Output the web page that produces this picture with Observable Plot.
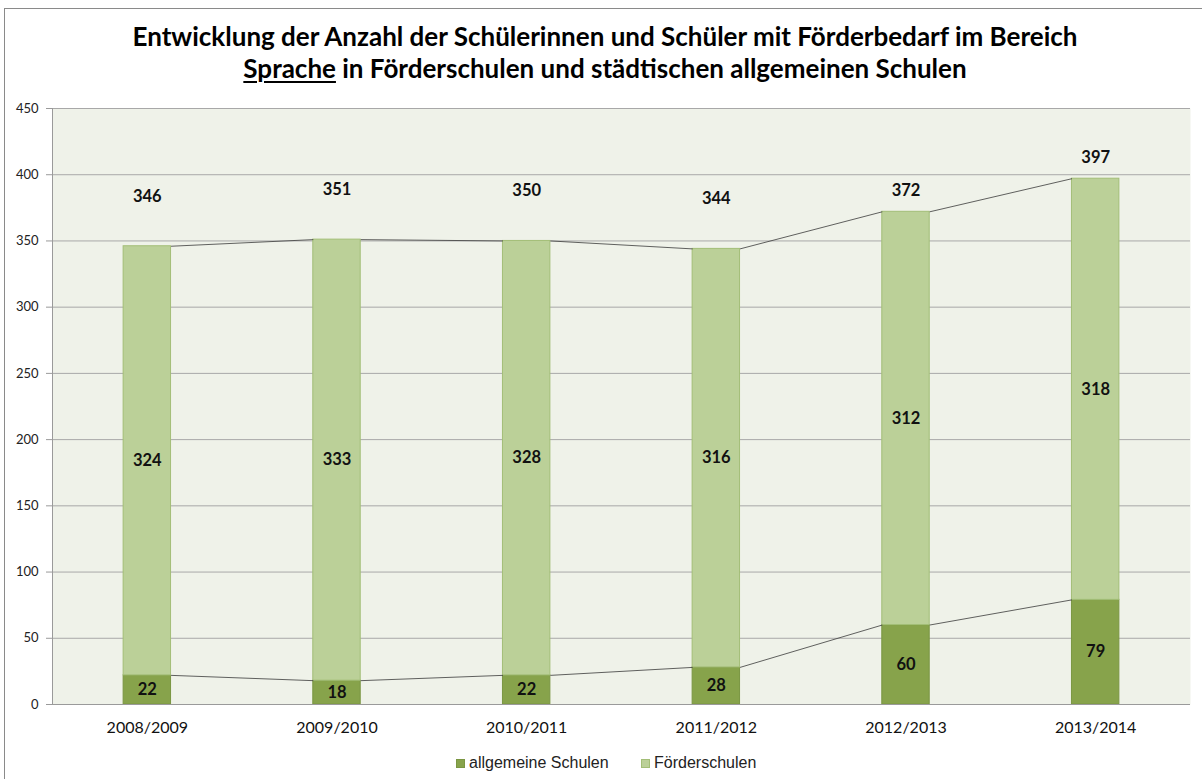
<!DOCTYPE html>
<html><head><meta charset="utf-8">
<script src="https://cdn.jsdelivr.net/npm/d3@7"></script>
<script src="https://cdn.jsdelivr.net/npm/@observablehq/plot@0.6"></script>
<style>
html,body{margin:0;padding:0;background:#fff;}
body{width:1202px;height:779px;overflow:hidden;position:relative;font-family:Lato,sans-serif;}
#frame{position:absolute;left:4px;top:8px;width:1300px;height:900px;border:1px solid #8a8a8a;box-sizing:border-box;}
#title{position:absolute;left:4px;top:20px;width:1202px;text-align:center;font-weight:bold;font-size:26px;line-height:32px;color:#000;font-family:Lato,sans-serif;}
#title u{text-decoration-thickness:2px;text-underline-offset:3px;}
#chart{position:absolute;left:0;top:96px;}
#legend{position:absolute;left:0;top:753px;width:1202px;font-family:"Liberation Sans",Arial,sans-serif;font-size:16px;color:#222;}
.item{position:absolute;display:flex;align-items:center;white-space:nowrap;line-height:20px;}
.sw{width:7px;height:7px;margin-right:4px;border:1px solid;}
</style></head>
<body>
<div id="frame"></div>
<div id="title">Entwicklung der Anzahl der Schülerinnen und Schüler mit Förderbedarf im Bereich<br><u>Sprache</u> in Förderschulen und städtischen allgemeinen Schulen</div>
<div id="chart"></div>
<div id="legend"></div>
<script>
const years = ["2008/2009","2009/2010","2010/2011","2011/2012","2012/2013","2013/2014"];
const allgemeine = [22, 18, 22, 28, 60, 79];
const foerder = [324, 333, 328, 316, 312, 318];
const totals = [346, 351, 350, 344, 372, 397];
const seriesNames = ["allgemeine Schulen", "Förderschulen"];
const seriesColors = ["#87A34B", "#BBD098"];
const seriesStrokes = ["#7A9642", "#A3BE77"];
const yTicks = [0,50,100,150,200,250,300,350,400,450];

const half = 0.125;
const idx = years.map((_, i) => i);
const segs = [];
idx.forEach(i => {
  segs.push({i, s: 0, y1: 0, y2: allgemeine[i], v: allgemeine[i]});
  segs.push({i, s: 1, y1: allgemeine[i], y2: allgemeine[i] + foerder[i], v: foerder[i]});
});
const linkIdx = idx.slice(0, -1);

const plot = Plot.plot({
  width: 1202, height: 648,
  marginLeft: 52, marginRight: 12, marginTop: 12, marginBottom: 40,
  style: {fontFamily: "Lato, sans-serif", background: "transparent", overflow: "visible"},
  x: {domain: [-0.5, years.length - 0.5], axis: null},
  y: {domain: [0, 450], axis: null},
  marks: [
    Plot.frame({fill: "#EFF2E9", stroke: null}),
    Plot.gridY(yTicks, {stroke: "#A8A8A8", strokeOpacity: 1, strokeWidth: 1}),
    Plot.rect(segs, {
      x1: d => d.i - half, x2: d => d.i + half, y1: "y1", y2: "y2",
      fill: d => seriesColors[d.s], stroke: d => seriesStrokes[d.s], strokeWidth: 1
    }),
    Plot.link(linkIdx, {x1: i => i + half, x2: i => i + 1 - half, y1: i => totals[i], y2: i => totals[i + 1], stroke: "#3a3a3a", strokeWidth: 0.8}),
    Plot.link(linkIdx, {x1: i => i + half, x2: i => i + 1 - half, y1: i => allgemeine[i], y2: i => allgemeine[i + 1], stroke: "#3a3a3a", strokeWidth: 0.8}),
    Plot.ruleX([-0.5], {stroke: "#9a9a9a", strokeWidth: 1}),
    Plot.ruleY([0], {stroke: "#9a9a9a", strokeWidth: 1}),
    Plot.axisY({ticks: yTicks, tickSize: 6, tickPadding: 8, fontSize: 13, stroke: "#9a9a9a", fill: "#222", tickFormat: d => d, label: null}),
    Plot.axisX({ticks: idx, tickSize: 0, tickPadding: 17, fontSize: 16, fill: "#111", tickFormat: i => years[i], label: null}),
    Plot.text(segs, {x: "i", y: d => (d.y1 + d.y2) / 2, text: "v", fontSize: 16.5, fontWeight: "bold", fill: "#111"}),
    Plot.text(idx.filter(i => i < 4), {x: i => i, y: i => totals[i], text: i => totals[i], dy: -50, fontSize: 16.5, fontWeight: "bold", fill: "#111"}),
    Plot.text(idx.filter(i => i >= 4), {x: i => i, y: i => totals[i], text: i => totals[i], dy: -21, fontSize: 16.5, fontWeight: "bold", fill: "#111"})
  ]
});
document.getElementById("chart").appendChild(plot);

const legend = document.getElementById("legend");
const lx = [456, 641];
seriesNames.forEach((n, k) => {
  const it = document.createElement("div");
  it.className = "item";
  it.style.left = lx[k] + "px";
  it.innerHTML = `<span class="sw" style="background:${seriesColors[k]};border-color:${seriesStrokes[k]}"></span>${n}`;
  legend.appendChild(it);
});
</script>
</body></html>
